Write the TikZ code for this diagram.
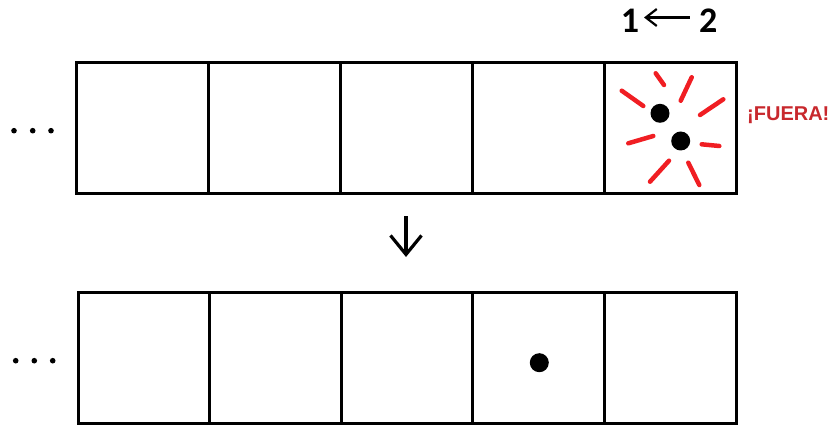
\documentclass[tikz,border=0pt]{standalone}
\usepackage{fontspec}
\setmainfont{Liberation Sans}
\newfontfamily\calib{Carlito}
\usetikzlibrary{arrows.meta}
\definecolor{fuera}{RGB}{200,40,45}
\definecolor{burst}{RGB}{240,30,35}
\begin{document}
\begin{tikzpicture}[x=1pt,y=-1pt,
  cell/.style={draw, line width=3pt, minimum width=132pt, minimum height=131pt, inner sep=0pt},
  bcell/.style={cell, minimum width=131.6pt},
  ball/.style={circle, fill=black, minimum size=19pt, inner sep=0pt},
  elldot/.style={circle, fill=black, minimum size=5.6pt, inner sep=0pt},
  ray/.style={draw=burst, line width=4.5pt, line cap=round},
  digit/.style={font=\calib\bfseries\fontsize{36}{36}\selectfont, inner sep=0pt, anchor=base}]
\useasboundingbox (0,0) rectangle (836,425);
% top row
\foreach \i/\x in {1/142,2/274,3/406,4/538,5/670}
  \node[cell] (t\i) at (\x,128.5) {};
% bottom row
\foreach \i/\x in {1/143.8,2/275.4,3/407.0,4/538.6,5/670.2}
  \node[bcell] (b\i) at (\x,358) {};
% ellipsis dots
\foreach \j/\x in {1/14,2/32.7,3/51}
  \node[elldot] (et\j) at (\x,130.7) {};
\foreach \j/\x in {1/15.7,2/34.3,3/52.7}
  \node[elldot] (eb\j) at (\x,360.7) {};
% balls
\node[ball] (p1) at (660,113.3) {};
\node[ball] (p2) at (680.7,141) {};
\node[ball] (q) at (539.3,362.7) {};
% burst rays
\draw[ray] (655.7,73.3) -- (664,85);
\draw[ray] (691.7,77.3) -- (680.7,100.7);
\draw[ray] (621.7,90.7) -- (643.3,106);
\draw[ray] (723.3,99.3) -- (700,115);
\draw[ray] (628.3,143.3) -- (653.3,136);
\draw[ray] (701.7,144.3) -- (719.3,146);
\draw[ray] (669,160.7) -- (650,181.7);
\draw[ray] (688.3,162.7) -- (699.3,185);
% label
\node[text=fuera, font=\bfseries\fontsize{20}{20}\selectfont, inner sep=0pt, anchor=base west] (fuera) at (747,120.5) {¡FUERA!};
% 1 <- 2
\node[digit] (n1) at (630,32.3) {1};
\node[digit] (n2) at (708.3,32.3) {2};
\coordinate (aL) at (644,17.5);
\coordinate (aR) at (690,17.5);
\draw[line width=2.2pt, {Straight Barb[length=11pt,width=17pt]}-] (aL) -- (aR);
% down arrow
\draw[line width=3.2pt, -{Straight Barb[length=19pt,width=31pt]}, shorten <=21pt, shorten >=34pt]
  (t3.south) -- (t3.south |- b3.north);
\end{tikzpicture}
\end{document}
